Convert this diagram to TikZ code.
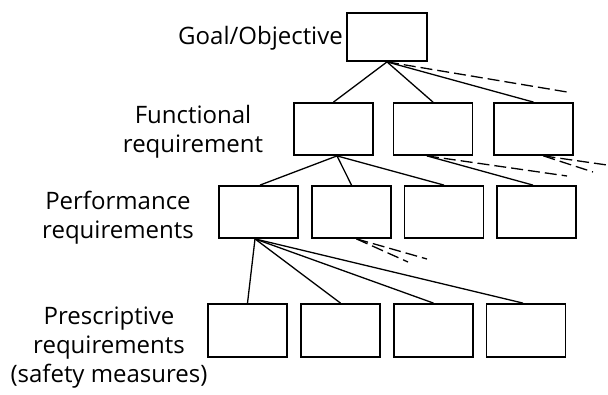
\documentclass[tikz,border=0pt]{standalone}
\usepackage{fontspec}
\setmainfont{Open Sans}
\begin{document}
\begin{tikzpicture}[x=1pt,y=-1pt,
  box/.style={draw,line width=1.8pt,minimum width=79pt,minimum height=52pt,inner sep=0pt},
  conn/.style={line width=1.3pt},
  dconn/.style={line width=1.3pt,dash pattern=on 12pt off 5pt},
  lbl/.style={font=\fontsize{24}{29}\selectfont,align=center,inner sep=0pt}]
\useasboundingbox (0,0) rectangle (608,394);
% boxes
\node[box,minimum width=80pt,minimum height=48pt] (g) at (387,37) {};
\node[box] (f1) at (333.5,129) {};
\node[box] (f2) at (433,129) {};
\node[box] (f3) at (533.5,129) {};
\node[box] (p1) at (258.5,212) {};
\node[box] (p2) at (351.5,212) {};
\node[box] (p3) at (444,212) {};
\node[box] (p4) at (536.5,212) {};
\node[box,minimum height=53pt] (q1) at (247.5,330.5) {};
\node[box,minimum height=53pt] (q2) at (340.5,330.5) {};
\node[box,minimum height=53pt] (q3) at (433.5,330.5) {};
\node[box,minimum height=53pt] (q4) at (526,330.5) {};
% labels
\node[lbl,anchor=base east] (tg) at (343,44) {Goal/Objective};
\node[lbl,anchor=base] (tf) at (193,152) {Functional\\requirement};
\node[lbl,anchor=base] (tp) at (118,238) {Performance\\requirements};
\node[lbl,anchor=base] (tq) at (109,382) {Prescriptive\\requirements\\(safety measures)};
% free ends
\coordinate (e1) at (567,92);
\coordinate (e2) at (567,176);
\coordinate (e3) at (607,165);
\coordinate (e4) at (593,172);
\coordinate (e5) at (427,259);
\coordinate (e6) at (408,262);
% solid connectors
\draw[conn] (g.south) -- (f1.north);
\draw[conn] (g.south) -- (f2.north);
\draw[conn] (g.south) -- (f3.north);
\draw[conn] ([xshift=3.5pt]f1.south) -- ([xshift=1.5pt]p1.north);
\draw[conn] ([xshift=3.5pt]f1.south) -- (p2.north);
\draw[conn] ([xshift=3.5pt]f1.south) -- (p3.north);
\draw[conn] ([xshift=-6pt]f2.south) -- ([xshift=-3.5pt]p4.north);
\draw[conn] ([xshift=-3.5pt]p1.south) -- (q1.north);
\draw[conn] ([xshift=-3.5pt]p1.south) -- (q2.north);
\draw[conn] ([xshift=-3.5pt]p1.south) -- (q3.north);
\draw[conn] ([xshift=-3.5pt]p1.south) -- ([xshift=-3pt]q4.north);
% dashed connectors
\draw[dconn] (g.south) -- (e1);
\draw[dconn] ([xshift=-6pt]f2.south) -- (e2);
\draw[dconn] ([xshift=10pt]f3.south) -- (e3);
\draw[dconn] ([xshift=10pt]f3.south) -- (e4);
\draw[dconn] ([xshift=5pt]p2.south) -- (e5);
\draw[dconn] ([xshift=5pt]p2.south) -- (e6);
\end{tikzpicture}
\end{document}
